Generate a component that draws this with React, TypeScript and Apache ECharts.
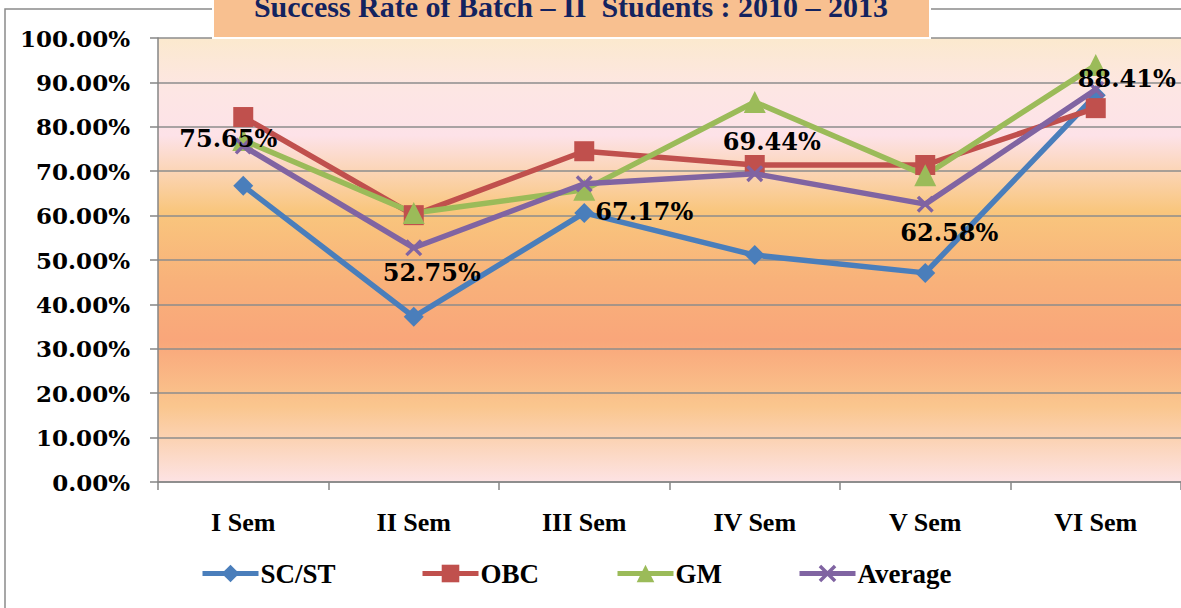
import React, { useEffect, useRef } from "react";
import * as echarts from "echarts";

const categories = ["I Sem", "II Sem", "III Sem", "IV Sem", "V Sem", "VI Sem"];
const scst = [66.7, 37.2, 60.6, 51.1, 47.1, 87.1];
const obc = [82.2, 60.1, 74.5, 71.4, 71.4, 84.2];
const gm = [77.0, 60.6, 65.8, 85.6, 69.1, 93.9];
const average = [75.65, 52.75, 67.17, 69.44, 62.58, 88.41];
const avgLabelOffsets = [[-15, -8], [18, 25], [60, 28], [17, -32], [24, 28], [31, -11]];
const yTicks = [0, 10, 20, 30, 40, 50, 60, 70, 80, 90, 100];
const titleText = "Success Rate of Batch – II  Students : 2010 – 2013";

const crossPath =
  "path://M0,1.4L1.4,0L5,3.6L8.6,0L10,1.4L6.4,5L10,8.6L8.6,10L5,6.4L1.4,10L0,8.6L3.6,5Z";

export default function App() {
  const ref = useRef<HTMLDivElement>(null);
  useEffect(() => {
    document.body.style.margin = "0";
    const chart = echarts.init(ref.current!, undefined, { renderer: "svg" });
    const serifW = "Liberation Serif";
    const serifD = "DejaVu Serif";
    const mkSeries = (name: string, data: any[], color: string, symbol: string, size: number, extra: any = {}) => ({
      name,
      type: "line",
      data,
      symbol,
      symbolSize: size,
      lineStyle: { color, width: 5.5 },
      itemStyle: { color },
      z: extra.z ?? 2,
      ...extra,
    });
    const legendItem = (name: string, left: number) => ({
      data: [name],
      left,
      top: 560,
      padding: 0,
      itemWidth: 56,
      itemHeight: 22,
      itemGap: 0,
      lineStyle: { width: 5 },
      textStyle: { fontFamily: serifW, fontWeight: "bold", fontSize: 27, color: "#000", padding: [0, 0, 0, -3] },
    });
    chart.setOption({
      animation: false,
      backgroundColor: "#fff",
      grid: {
        left: 158,
        top: 38,
        width: 1026,
        height: 444,
        show: true,
        borderWidth: 0,
        backgroundColor: new echarts.graphic.LinearGradient(0, 0, 0, 1, [
          { offset: 0, color: "#FBE9CE" },
          { offset: 0.12, color: "#FDE6E4" },
          { offset: 0.22, color: "#FDE2E8" },
          { offset: 0.39, color: "#F9C67D" },
          { offset: 0.55, color: "#F8B17A" },
          { offset: 0.68, color: "#F9A67A" },
          { offset: 0.83, color: "#FAC68E" },
          { offset: 1, color: "#FDE3E4" },
        ]),
      },
      xAxis: {
        type: "category",
        data: categories,
        boundaryGap: true,
        axisLine: { lineStyle: { color: "#868686", width: 1.5 } },
        axisTick: { show: true, length: 8, lineStyle: { color: "#868686", width: 1.5 } },
        axisLabel: { margin: 27, fontFamily: serifW, fontWeight: "bold", fontSize: 26, color: "#000" },
      },
      yAxis: {
        type: "value",
        min: 0,
        max: 100,
        interval: 10,
        axisLine: { show: true, lineStyle: { color: "#868686", width: 1.5 } },
        axisTick: { show: true, length: 8, lineStyle: { color: "#868686", width: 1.5 } },
        splitLine: { lineStyle: { color: "#8C8C8C", width: 1.5 } },
        axisLabel: {
          margin: 28,
          fontFamily: serifD,
          fontWeight: "bold",
          fontSize: 23,
          color: "#000",
          formatter: (v: number) => (yTicks.includes(v) ? v.toFixed(2) + "%" : ""),
        },
      },
      legend: [
        legendItem("SC/ST", 200),
        legendItem("OBC", 420),
        legendItem("GM", 615),
        legendItem("Average", 797),
      ],
      series: [
        mkSeries("SC/ST", scst, "#4A7EBB", "diamond", 20),
        mkSeries("OBC", obc, "#C0504D", "rect", 20),
        mkSeries("GM", gm, "#9BBB59", "triangle", 22),
        mkSeries(
          "Average",
          average.map((v, i) => ({
            value: v,
            label: {
              show: true,
              position: "inside",
              offset: avgLabelOffsets[i],
              formatter: (p: any) => p.value.toFixed(2) + "%",
              fontFamily: serifD,
              fontWeight: "bold",
              fontSize: 24,
              color: "#000",
            },
          })),
          "#8064A2",
          crossPath,
          17,
          { z: 3 }
        ),
      ],
      graphic: [
        {
          type: "rect",
          shape: { x: 5, y: 9, width: 1200, height: 620 },
          style: { fill: "none", stroke: "#8A8A8A", lineWidth: 1.5 },
          z: 10,
          silent: true,
        },
        {
          type: "rect",
          shape: { x: 213, y: -3, width: 717, height: 41 },
          style: { fill: "#F8C090", stroke: "#FFFFFF", lineWidth: 2 },
          z: 11,
        },
        {
          type: "text",
          x: 571,
          y: 6,
          style: {
            text: titleText,
            fontFamily: serifW,
            fontWeight: "bold",
            fontSize: 30,
            fill: "#13235F",
            align: "center",
            verticalAlign: "middle",
          },
          z: 12,
        },
      ],
    });
    return () => chart.dispose();
  }, []);
  return <div ref={ref} style={{ width: 1181, height: 608, position: "absolute", left: 0, top: 0 }} />;
}
